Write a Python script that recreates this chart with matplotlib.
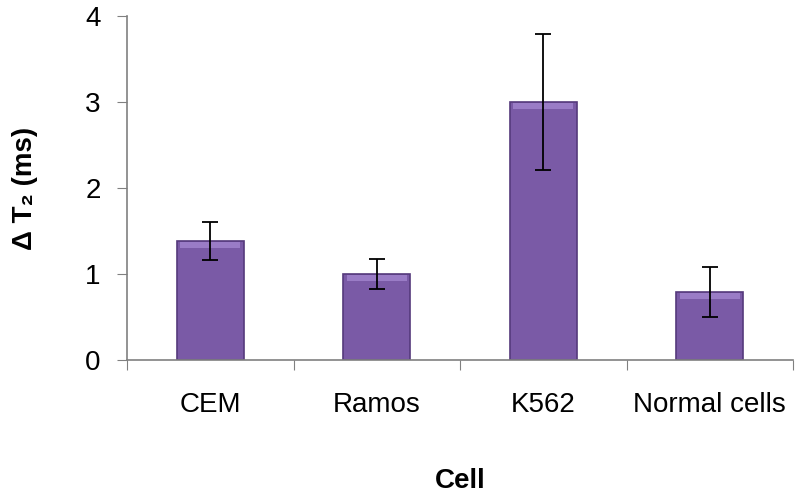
import matplotlib.pyplot as plt
import numpy as np

cells = ['CEM', 'Ramos', 'K562', 'Normal cells']
dt2 = [1.38, 1.0, 3.0, 0.79]
err = [0.22, 0.17, 0.79, 0.29]

plt.rcParams['font.family'] = ['Liberation Sans', 'DejaVu Sans']

fig = plt.figure(figsize=(8, 4.99), dpi=100)
ax = fig.add_axes([127/800, 139/499, 666/800, 344/499])

x = np.arange(len(cells))
ax.bar(x, dt2, 0.4, color='#7a5aa6', edgecolor='#553a7c', linewidth=1.2, zorder=2)
# lighter bevel strip along the top of each bar
ax.bar(x, [0.07]*len(x), 0.36, bottom=np.array(dt2) - 0.08, color='#9a7cc6',
       linewidth=0, zorder=3)
ax.errorbar(x, dt2, yerr=err, fmt='none', ecolor='black', elinewidth=1.3,
            capsize=6, capthick=1.3, zorder=4)

ax.set_xlim(-0.5, len(cells) - 0.5)
ax.set_ylim(0, 4)
ax.set_yticks([0, 1, 2, 3, 4])

# tick marks between categories, labels under the bars
ax.set_xticks(np.arange(len(cells) + 1) - 0.5)
ax.set_xticklabels([])
ax.set_xticks(x, minor=True)
ax.set_xticklabels(cells, minor=True, fontsize=20)
ax.tick_params(axis='x', which='major', length=7, color='#808080', direction='out')
ax.tick_params(axis='x', which='minor', length=0, pad=23)
ax.tick_params(axis='y', length=7, color='#808080', labelsize=20, pad=12)

for s in ['top', 'right']:
    ax.spines[s].set_visible(False)
for s in ['left', 'bottom']:
    ax.spines[s].set_color('#808080')
    ax.spines[s].set_linewidth(1.2)

ax.set_xlabel('Cell', fontsize=20, fontweight='bold', labelpad=36)
ax.set_ylabel('Δ T₂ (ms)', fontsize=20, fontweight='bold', labelpad=34)

plt.savefig('out.png', dpi=100)
print("Done")
